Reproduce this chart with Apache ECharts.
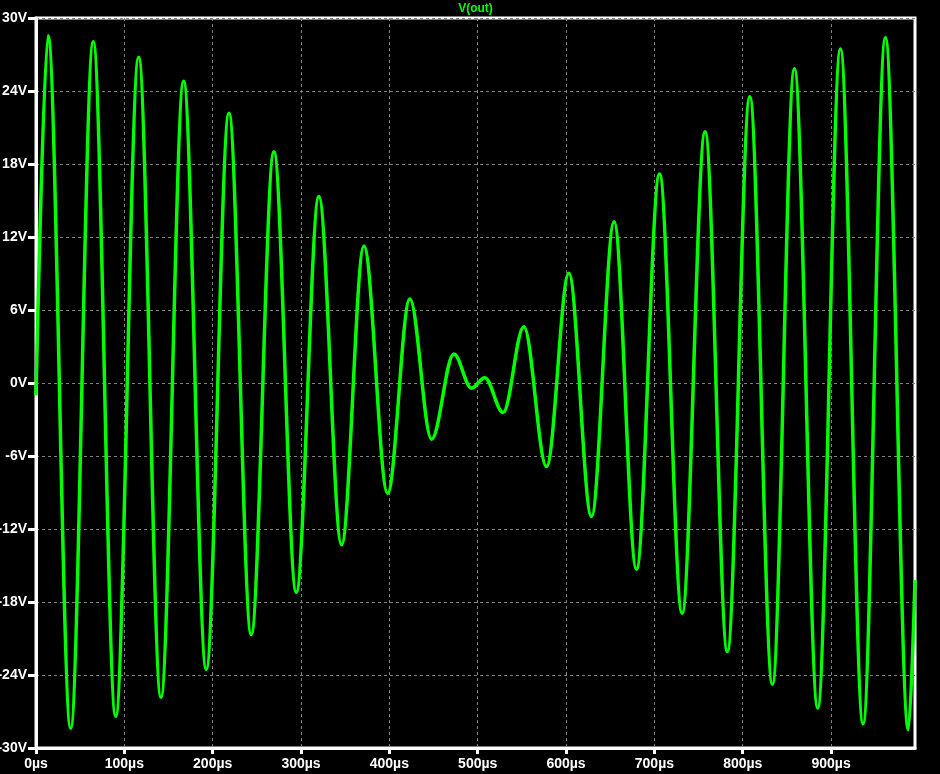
<!DOCTYPE html>
<html>
<head>
<meta charset="utf-8">
<script src="https://cdn.jsdelivr.net/npm/echarts@6/dist/echarts.min.js"></script>
<style>
html,body{margin:0;padding:0;background:#000;}
#chart{width:940px;height:774px;}
</style>
</head>
<body>
<div id="chart"></div>
<script>
// Extrema of V(out) (time in µs, voltage in V)
const timeUs = [0, 13.6, 39.2, 64.8, 90.2, 116.2, 141.4, 167.1, 192.7, 218.4, 243.6, 269.3, 294.6, 320.2, 345.9, 371.2, 398.0, 423.2, 447.8, 473.0, 493.0, 508.0, 528.8, 552.2, 577.9, 603.2, 628.8, 654.4, 679.7, 705.8, 731.4, 757.4, 782.6, 808.0, 833.6, 858.5, 884.9, 910.6, 936.2, 961.5, 987.5, 995];
const vOut = [-1.0, 28.55, -28.37, 28.05, -27.4, 26.77, -25.82, 24.8, -23.52, 22.17, -20.67, 19.0, -17.19, 15.32, -13.3, 11.27, -9.06, 6.91, -4.62, 2.39, -0.43, 0.44, -2.43, 4.63, -6.87, 9.02, -10.98, 13.26, -15.3, 17.18, -18.92, 20.66, -22.07, 23.53, -24.75, 25.83, -26.72, 27.45, -28.01, 28.38, -28.5, -16.2];
const xTicks = [0, 100, 200, 300, 400, 500, 600, 700, 800, 900];
const yTicks = [-30, -24, -18, -12, -6, 0, 6, 12, 18, 24, 30];
const traceName = 'V(out)';

const chart = echarts.init(document.getElementById('chart'), null, {renderer: 'canvas'});
const font = '"Liberation Sans", Arial, sans-serif';
const option = {
  backgroundColor: '#000000',
  animation: false,
  graphic: [{
    type: 'text', x: 475.5, y: 9, z: 10,
    style: { text: traceName, textAlign: 'center', textVerticalAlign: 'middle', fill: '#00ff00', font: 'bold 12px ' + font }
  }],
  grid: { left: 36, top: 18, right: 25, bottom: 26, show: true, borderColor: '#ffffff', borderWidth: 3,
    backgroundColor: 'transparent', containLabel: false, outerBoundsMode: 'none' },
  xAxis: {
    type: 'value', min: 0, max: 995, interval: 100,
    axisLine: { show: true, onZero: false, lineStyle: { color: '#ffffff', width: 3 } },
    axisTick: { show: true, length: 6, lineStyle: { color: '#ffffff', width: 3 }, customValues: xTicks },
    axisLabel: { color: '#ffffff', fontSize: 14, fontWeight: 'bold', fontFamily: font, margin: 9, customValues: xTicks,
      formatter: v => (v % 100 === 0 ? v + 'µs' : '') },
    splitLine: { show: true, lineStyle: { color: '#808080', width: 1, type: [3, 3] } }
  },
  yAxis: {
    type: 'value', min: -30, max: 30, interval: 6,
    axisLine: { show: true, onZero: false, lineStyle: { color: '#ffffff', width: 3 } },
    axisTick: { show: true, length: 8, lineStyle: { color: '#ffffff', width: 3 } },
    axisLabel: { color: '#ffffff', fontSize: 14, fontWeight: 'bold', fontFamily: font, margin: 9, formatter: v => v + 'V' },
    splitLine: { show: true, lineStyle: { color: '#808080', width: 1, type: [3, 3] } }
  },
  series: [{
    name: traceName, type: 'line', showSymbol: false, symbol: 'none',
    smooth: 0.35, smoothMonotone: 'x', clip: true,
    lineStyle: { color: '#00ff00', width: 3.5 },
    data: timeUs.map((t, i) => [t, vOut[i]])
  }]
};
chart.setOption(option);
</script>
</body>
</html>
